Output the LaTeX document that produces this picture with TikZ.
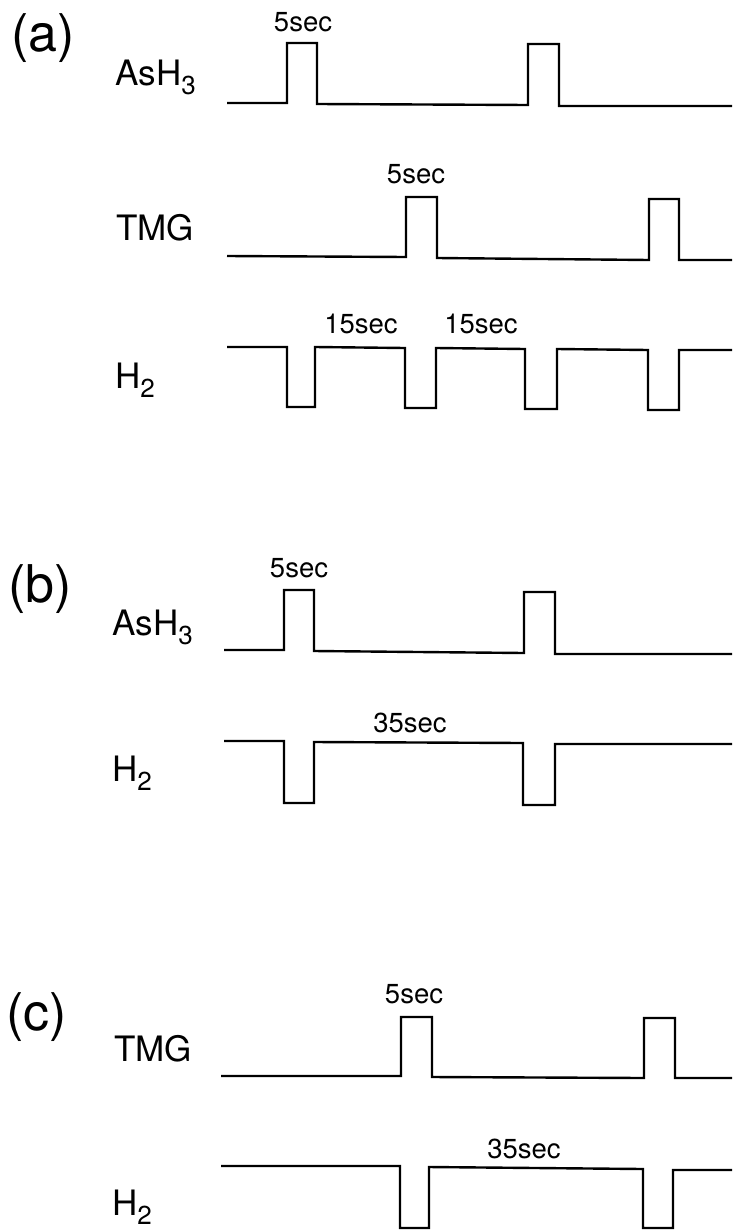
\documentclass[tikz,border=0pt]{standalone}
\usepackage{fontspec}
\setmainfont{TeX Gyre Heros}
\newcommand{\sbs}[1]{\raisebox{-0.28em}{\fontsize{26}{30}\selectfont #1}}
\begin{document}
\begin{tikzpicture}[x=1pt,y=-1pt,
  wave/.style={line width=2.4pt, line join=miter},
  panel/.style={inner sep=0pt, anchor=base west, font=\fontsize{52}{58}\selectfont},
  gas/.style={inner sep=0pt, anchor=base west, font=\fontsize{35}{40}\selectfont},
  dur/.style={inner sep=0pt, anchor=base, font=\fontsize{27.5}{32}\selectfont}]
\useasboundingbox (0,0) rectangle (732,1231);
% ---------- (a)
\node[panel] (pa) at (11,52) {(a)};
\node[gas] (a1) at (115,85) {AsH\sbs{3}};
\node[gas] (a2) at (116,240) {TMG};
\node[gas] (a3) at (115,388) {H\sbs{2}};
\node[dur] (a5s1) at (303,32) {5sec};
\node[dur] (a5s2) at (416,183) {5sec};
\node[dur] (a15a) at (361,333) {15sec};
\node[dur] (a15b) at (481,333) {15sec};
\draw[wave] (227,103) -- (287,103) -- (287,43) -- (317,43) -- (317,104) -- (528,105) -- (528,44) -- (559,44) -- (559,106) -- (732,106);
\draw[wave] (227,256) -- (406,257) -- (406,197) -- (437,197) -- (437,258) -- (649,260) -- (649,199) -- (679,199) -- (679,260) -- (732,260);
\draw[wave] (227,347) -- (287,347) -- (287,407) -- (315,407) -- (315,347) -- (405,348) -- (405,408) -- (436,408) -- (436,348) -- (525,349) -- (525,409) -- (557,409) -- (557,349) -- (648,350) -- (648,410) -- (679,410) -- (679,350) -- (732,350);
% ---------- (b)
\node[panel] (pb) at (8,602) {(b)};
\node[gas] (b1) at (112,635) {AsH\sbs{3}};
\node[gas] (b2) at (112,781) {H\sbs{2}};
\node[dur] (b5s) at (299,577) {5sec};
\node[dur] (b35) at (410,732) {35sec};
\draw[wave] (224,650) -- (284,650) -- (284,590) -- (314,590) -- (314,651) -- (524,653) -- (524,592) -- (555,592) -- (555,654) -- (732,654);
\draw[wave] (224,741) -- (284,741) -- (284,803) -- (314,803) -- (314,742) -- (523,743) -- (523,805) -- (555,805) -- (555,744) -- (732,744);
% ---------- (c)
\node[panel] (pc) at (6,1030) {(c)};
\node[gas] (c1) at (114,1061) {TMG};
\node[gas] (c2) at (112,1215) {H\sbs{2}};
\node[dur] (c5s) at (414,1003) {5sec};
\node[dur] (c35) at (524,1158) {35sec};
\draw[wave] (221,1076) -- (401,1076) -- (401,1017) -- (432,1017) -- (432,1077) -- (644,1078) -- (644,1018) -- (675,1018) -- (675,1078) -- (732,1078);
\draw[wave] (221,1166) -- (400,1166) -- (400,1228) -- (429,1228) -- (429,1167) -- (643,1169) -- (643,1228) -- (673,1228) -- (673,1170) -- (732,1170);
\end{tikzpicture}
\end{document}
